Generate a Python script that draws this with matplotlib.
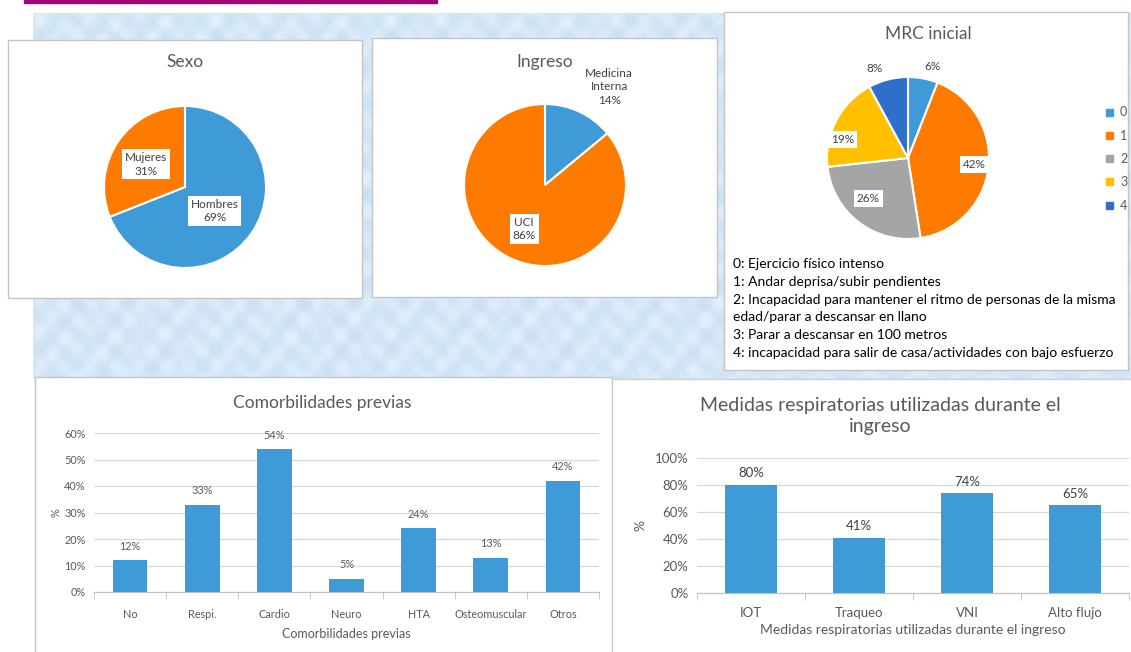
import numpy as np
import matplotlib.pyplot as plt
from matplotlib.patches import Rectangle, Patch
from matplotlib.colors import LinearSegmentedColormap

W, H = 1131, 652

# --- data ---
sexo_labels = ["Hombres", "Mujeres"]
sexo_values = [69, 31]

ingreso_labels = ["Medicina\nInterna", "UCI"]
ingreso_values = [14, 86]

mrc_labels = ["0", "1", "2", "3", "4"]
mrc_values = [6, 42, 26, 19, 8]
mrc_notes = [
    "0: Ejercicio físico intenso",
    "1: Andar deprisa/subir pendientes",
    "2: Incapacidad para mantener el ritmo de personas de la misma",
    "edad/parar a descansar en llano",
    "3: Parar a descansar en 100 metros",
    "4: incapacidad para salir de casa/actividades con bajo esfuerzo",
]

comorb_labels = ["No", "Respi.", "Cardio", "Neuro", "HTA", "Osteomuscular", "Otros"]
comorb_values = [12, 33, 54, 5, 24, 13, 42]

resp_labels = ["IOT", "Traqueo", "VNI", "Alto flujo"]
resp_values = [80, 41, 74, 65]

# --- style ---
BLUE = "#3f9bd8"
ORANGE = "#ff7b00"
GRAY = "#a5a5a5"
GOLD = "#ffc000"
DARKBLUE = "#2f6fc9"
TXT = "#595959"
FONT = ["Lato", "DejaVu Sans"]

plt.rcParams["font.family"] = FONT


def px_axes(fig, x0, y0, x1, y1):
    """Axes from pixel box (top-left origin)."""
    return fig.add_axes([x0 / W, 1 - y1 / H, (x1 - x0) / W, (y1 - y0) / H])


fig = plt.figure(figsize=(W / 100, H / 100), dpi=100)

# background layer in pixel coordinates
bg = fig.add_axes([0, 0, 1, 1])
bg.set_xlim(0, W)
bg.set_ylim(H, 0)
bg.axis("off")

# light blue lace-like texture
gx, gy = np.meshgrid(np.arange(0, W - 33), np.arange(0, 366))
tex = (np.sin(gx / 4.0) * np.sin(gy / 5.0) + np.sin((gx + gy) / 7.0) * 0.5
       + np.cos((gx - 2 * gy) / 9.0) * 0.4)
cmap = LinearSegmentedColormap.from_list("lace", ["#c9dff3", "#d5e7f7", "#e6f1fb"])
bg.imshow(tex, cmap=cmap, extent=(33, W, 379, 13), aspect="auto", zorder=0)

# title bar strip
bg.add_patch(Rectangle((24, 0), 413, 3, color="#a0067a", zorder=1))

# panel boxes
for (x0, y0, x1, y1) in [(8, 40, 362, 298), (372, 38, 717, 297),
                         (724, 12, 1128, 370), (35, 377, 612, 660)]:
    bg.add_patch(Rectangle((x0, y0), x1 - x0, y1 - y0, facecolor="white",
                           edgecolor="#c4c4c4", lw=1.0, zorder=2))
bg.add_patch(Rectangle((612.5, 379), 530, 290, facecolor="white", edgecolor="none", zorder=2))
bg.plot([612, W], [379, 379], color="#cfcfcf", lw=1.0, zorder=2)

box = dict(boxstyle="square,pad=0.25", fc="white", ec="none")


def draw_pie(cx, cy, r, values, colors, labels, dists, shifts, boxed, fsize):
    ax = px_axes(fig, cx - r, cy - r, cx + r, cy + r)
    wedges, _ = ax.pie(values, colors=colors, startangle=90, counterclock=False,
                       radius=1, wedgeprops=dict(edgecolor="white", linewidth=1.5))
    ax.set_xlim(-1, 1)
    ax.set_ylim(-1, 1)
    ax.set_aspect("equal")
    for w, lab, d, s, b in zip(wedges, labels, dists, shifts, boxed):
        ang = np.deg2rad((w.theta1 + w.theta2) / 2 + s)
        ax.text(d * np.cos(ang), d * np.sin(ang), lab, ha="center", va="center",
                fontsize=fsize, color="#404040", linespacing=1.3,
                bbox=box if b else None, zorder=5)
    return wedges


# Sexo
bg.text(185, 62, "Sexo", ha="center", va="center", fontsize=12.5, color=TXT, zorder=3)
draw_pie(185, 187, 81, sexo_values, [BLUE, ORANGE],
         [f"{l}\n{v}%" for l, v in zip(sexo_labels, sexo_values)],
         [0.47, 0.56], [-5, 4], [True, True], 8.5)

# Ingreso
bg.text(545, 62, "Ingreso", ha="center", va="center", fontsize=12.5, color=TXT, zorder=3)
draw_pie(545, 185, 81, ingreso_values, [BLUE, ORANGE],
         [f"{l}\n{v}%" for l, v in zip(ingreso_labels, ingreso_values)],
         [1.45, 0.6], [-8, 0], [False, True], 8.5)

# MRC inicial
bg.text(928, 34, "MRC inicial", ha="center", va="center", fontsize=12.5, color=TXT, zorder=3)
mrc_w = draw_pie(908, 158, 81, mrc_values, [BLUE, ORANGE, GRAY, GOLD, DARKBLUE],
                 [f"{v}%" for v in mrc_values],
                 [1.17, 0.82, 0.70, 0.84, 1.18], [-4, 1, -7, 12, 6],
                 [False, True, True, True, False], 8.5)
fig.legend([Patch(color=w.get_facecolor()) for w in mrc_w], mrc_labels,
           loc="center left", bbox_to_anchor=(1095 / W, 1 - 159 / H), frameon=False,
           handlelength=0.5, handleheight=0.5, handletextpad=0.6, labelspacing=0.9,
           fontsize=9, labelcolor=TXT)
for i, line in enumerate(mrc_notes):
    bg.text(733, 264 + i * 17.8, line, ha="left", va="center", fontsize=10,
            color="black", zorder=3)


def style_bar_axis(ax, n, tick_fs):
    ax.set_xlim(-0.5, n - 0.5)
    for s in ["top", "right", "left"]:
        ax.spines[s].set_visible(False)
    ax.spines["bottom"].set_color("#bfbfbf")
    ax.grid(True, axis="y", color="#d9d9d9", lw=0.9)
    ax.set_axisbelow(True)
    ax.tick_params(axis="both", length=0, labelsize=tick_fs, labelcolor=TXT, pad=6)
    ax.set_xticks(np.arange(n + 1) - 0.5, minor=True)
    ax.tick_params(axis="x", which="minor", length=5, color="#bfbfbf")


# Comorbilidades previas
ax1 = px_axes(fig, 94, 433, 599, 592)
x1 = np.arange(len(comorb_labels))
b1 = ax1.bar(x1, comorb_values, width=0.48, color=BLUE)
ax1.set_ylim(0, 60)
ax1.set_yticks(np.arange(0, 61, 10))
ax1.set_yticklabels([f"{v}%" for v in range(0, 61, 10)])
ax1.set_xticks(x1)
ax1.set_xticklabels(comorb_labels)
style_bar_axis(ax1, len(comorb_labels), 7.8)
ax1.tick_params(axis="x", pad=12)
for rect, v in zip(b1, comorb_values):
    ax1.annotate(f"{v}%", (rect.get_x() + rect.get_width() / 2, v), xytext=(0, 6),
                 textcoords="offset points", ha="center", va="bottom",
                 fontsize=7.8, color=TXT)
ax1.set_xlabel("Comorbilidades previas", fontsize=9, color=TXT, labelpad=6)
ax1.set_ylabel("%", fontsize=8, color=TXT, labelpad=2)
bg.text(322, 403, "Comorbilidades previas", ha="center", va="center", fontsize=12.5,
        color=TXT, zorder=3)

# Medidas respiratorias
ax2 = px_axes(fig, 697, 458, 1129, 593)
x2 = np.arange(len(resp_labels))
b2 = ax2.bar(x2, resp_values, width=0.48, color=BLUE)
ax2.set_ylim(0, 100)
ax2.set_yticks(np.arange(0, 101, 20))
ax2.set_yticklabels([f"{v}%" for v in range(0, 101, 20)])
ax2.set_xticks(x2)
ax2.set_xticklabels(resp_labels)
style_bar_axis(ax2, len(resp_labels), 9.5)
ax2.tick_params(axis="x", pad=10)
for rect, v in zip(b2, resp_values):
    ax2.annotate(f"{v}%", (rect.get_x() + rect.get_width() / 2, v), xytext=(0, 4),
                 textcoords="offset points", ha="center", va="bottom",
                 fontsize=9.5, color="#404040")
ax2.set_xlabel("Medidas respiratorias utilizadas durante el ingreso", fontsize=10,
               color=TXT, labelpad=4)
ax2.set_ylabel("%", fontsize=10, color=TXT, labelpad=6)
bg.text(880, 416, "Medidas respiratorias utilizadas durante el\ningreso", ha="center",
        va="center", fontsize=14, color=TXT, linespacing=1.3, zorder=3)

fig.savefig("out.png", dpi=100)
